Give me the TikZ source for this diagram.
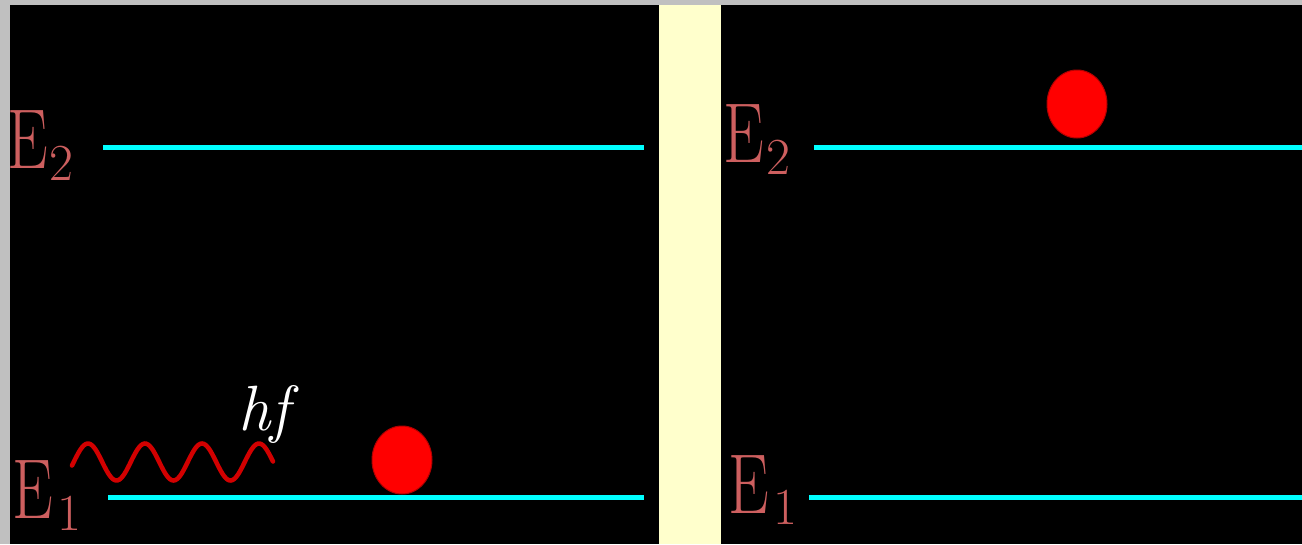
\documentclass[tikz,border=0pt]{standalone}
\usepackage{graphicx}
\definecolor{bggrey}{RGB}{192,192,192}
\definecolor{paleyellow}{RGB}{255,255,204}
\definecolor{level}{RGB}{0,255,255}
\definecolor{labelred}{RGB}{205,95,95}
\definecolor{wavered}{RGB}{210,0,0}
\definecolor{ballred}{RGB}{255,0,0}
\tikzset{
  levelline/.style={draw=level,line width=5pt},
  ball/.style={fill=ballred,draw=ballred!70!black,line width=1pt},
  biglabel/.style={inner sep=0pt,text=labelred,font=\fontsize{85}{85}\selectfont},
  sublabel/.style={inner sep=0pt,text=labelred,font=\fontsize{52}{52}\selectfont},
  photon/.style={inner sep=0pt,text=white,font=\fontsize{64}{64}\selectfont\itshape},
}
\begin{document}
\begin{tikzpicture}[x=1pt,y=-1pt]
\useasboundingbox (0,0) rectangle (1302,544);
\fill[bggrey] (0,0) rectangle (1302,544);
\fill[black] (10,5) rectangle (659,544);
\fill[paleyellow] (659,5) rectangle (721,544);
\fill[black] (721,5) rectangle (1302,544);
% energy levels
\draw[levelline] (103,147.5) coordinate (l2a) -- (644,147.5) coordinate (l2b);
\draw[levelline] (108,497.5) coordinate (l1a) -- (644,497.5) coordinate (l1b);
\draw[levelline] (814,147.5) coordinate (r2a) -- (1302,147.5) coordinate (r2b);
\draw[levelline] (809,497.5) coordinate (r1a) -- (1302,497.5) coordinate (r1b);
% labels left
\node[biglabel,anchor=base west] (lE2) at (7,168) {\scalebox{0.76}[1]{E}};
\node[sublabel,anchor=base west] (lS2) at (49,180) {2};
\node[biglabel,anchor=base west] (lE1) at (12,518) {\scalebox{0.76}[1]{E}};
\node[sublabel,anchor=base west] (lS1) at (57,530) {1};
% labels right
\node[biglabel,anchor=base west] (rE2) at (723,162) {\scalebox{0.76}[1]{E}};
\node[sublabel,anchor=base west] (rS2) at (766,174) {2};
\node[biglabel,anchor=base west] (rE1) at (728,513) {\scalebox{0.76}[1]{E}};
\node[sublabel,anchor=base west] (rS1) at (773,524) {1};
% electrons
\fill[ball] (402,460) ellipse [x radius=30, y radius=34];
\fill[ball] (1077,104) ellipse [x radius=30, y radius=34];
% photon
\draw[wavered,line width=4.5pt,line cap=round] plot[domain=72:273,samples=120] (\x,{462-18.5*sin((\x-72)/57*360-11)});
\node[photon,anchor=base west] (hf) at (238,430) {hf};
\end{tikzpicture}
\end{document}
